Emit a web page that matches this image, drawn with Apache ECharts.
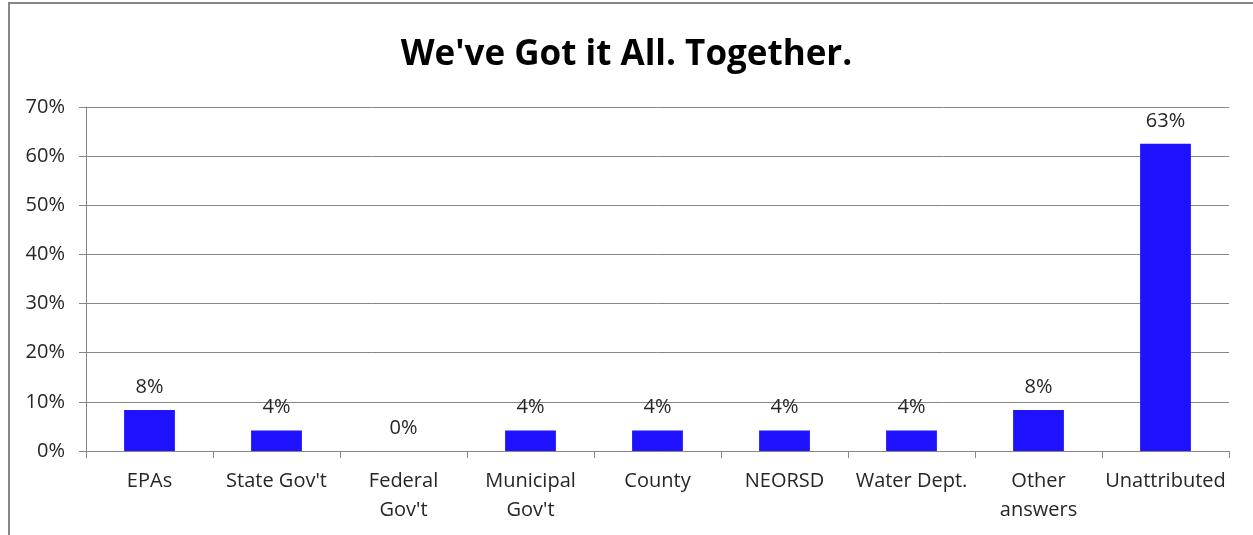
<!DOCTYPE html>
<html>
<head>
<meta charset="utf-8">
<script src="https://cdn.jsdelivr.net/npm/echarts@6/dist/echarts.min.js"></script>
<style>
html,body{margin:0;padding:0;background:#fff;}
#frame{position:absolute;left:8px;top:2px;width:1260px;height:560px;border:2px solid #868686;box-sizing:border-box;}
#chart{position:absolute;left:0;top:0;width:1253px;height:535px;}
</style>
</head>
<body>
<div id="frame"></div>
<div id="chart"></div>
<script>
const titleText = "We've Got it All. Together.";
const categories = ["EPAs", "State Gov't", "Federal\nGov't", "Municipal\nGov't", "County", "NEORSD", "Water Dept.", "Other\nanswers", "Unattributed"];
const values = [8.33, 4.17, 0, 4.17, 4.17, 4.17, 4.17, 8.33, 62.5];
const yTicks = [0, 10, 20, 30, 40, 50, 60, 70];

const font = "'Open Sans', sans-serif";
const chart = echarts.init(document.getElementById('chart'), null, {renderer: 'canvas'});
chart.setOption({
  animation: false,
  title: {
    text: titleText,
    left: 'center',
    top: 33,
    textStyle: {fontFamily: font, fontWeight: 'bold', fontSize: 35, color: '#000'}
  },
  grid: {left: 86, right: 24, top: 107, bottom: 84, containLabel: false},
  xAxis: {
    type: 'category',
    data: categories,
    axisLine: {lineStyle: {color: '#868686', width: 1}},
    axisTick: {show: true, length: 7, lineStyle: {color: '#868686'}, alignWithLabel: false},
    axisLabel: {fontFamily: font, fontSize: 20, color: '#262626', margin: 16, lineHeight: 29, interval: 0}
  },
  yAxis: {
    type: 'value',
    min: yTicks[0],
    max: yTicks[yTicks.length - 1],
    interval: 10,
    axisLine: {show: true, lineStyle: {color: '#868686', width: 1}},
    axisTick: {show: true, length: 7, inside: false, lineStyle: {color: '#868686'}},
    splitLine: {lineStyle: {color: '#868686', width: 1}},
    axisLabel: {fontFamily: font, fontSize: 20, color: '#262626', margin: 21, formatter: v => v + '%'}
  },
  series: [{
    type: 'bar',
    data: values,
    barWidth: '40%',
    itemStyle: {color: '#1F12FF', borderWidth: 0},
    label: {
      show: true,
      position: 'top',
      distance: 13,
      fontFamily: font,
      fontSize: 20,
      color: '#262626',
      formatter: p => Math.round(p.value) + '%'
    }
  }]
});
</script>
</body>
</html>
